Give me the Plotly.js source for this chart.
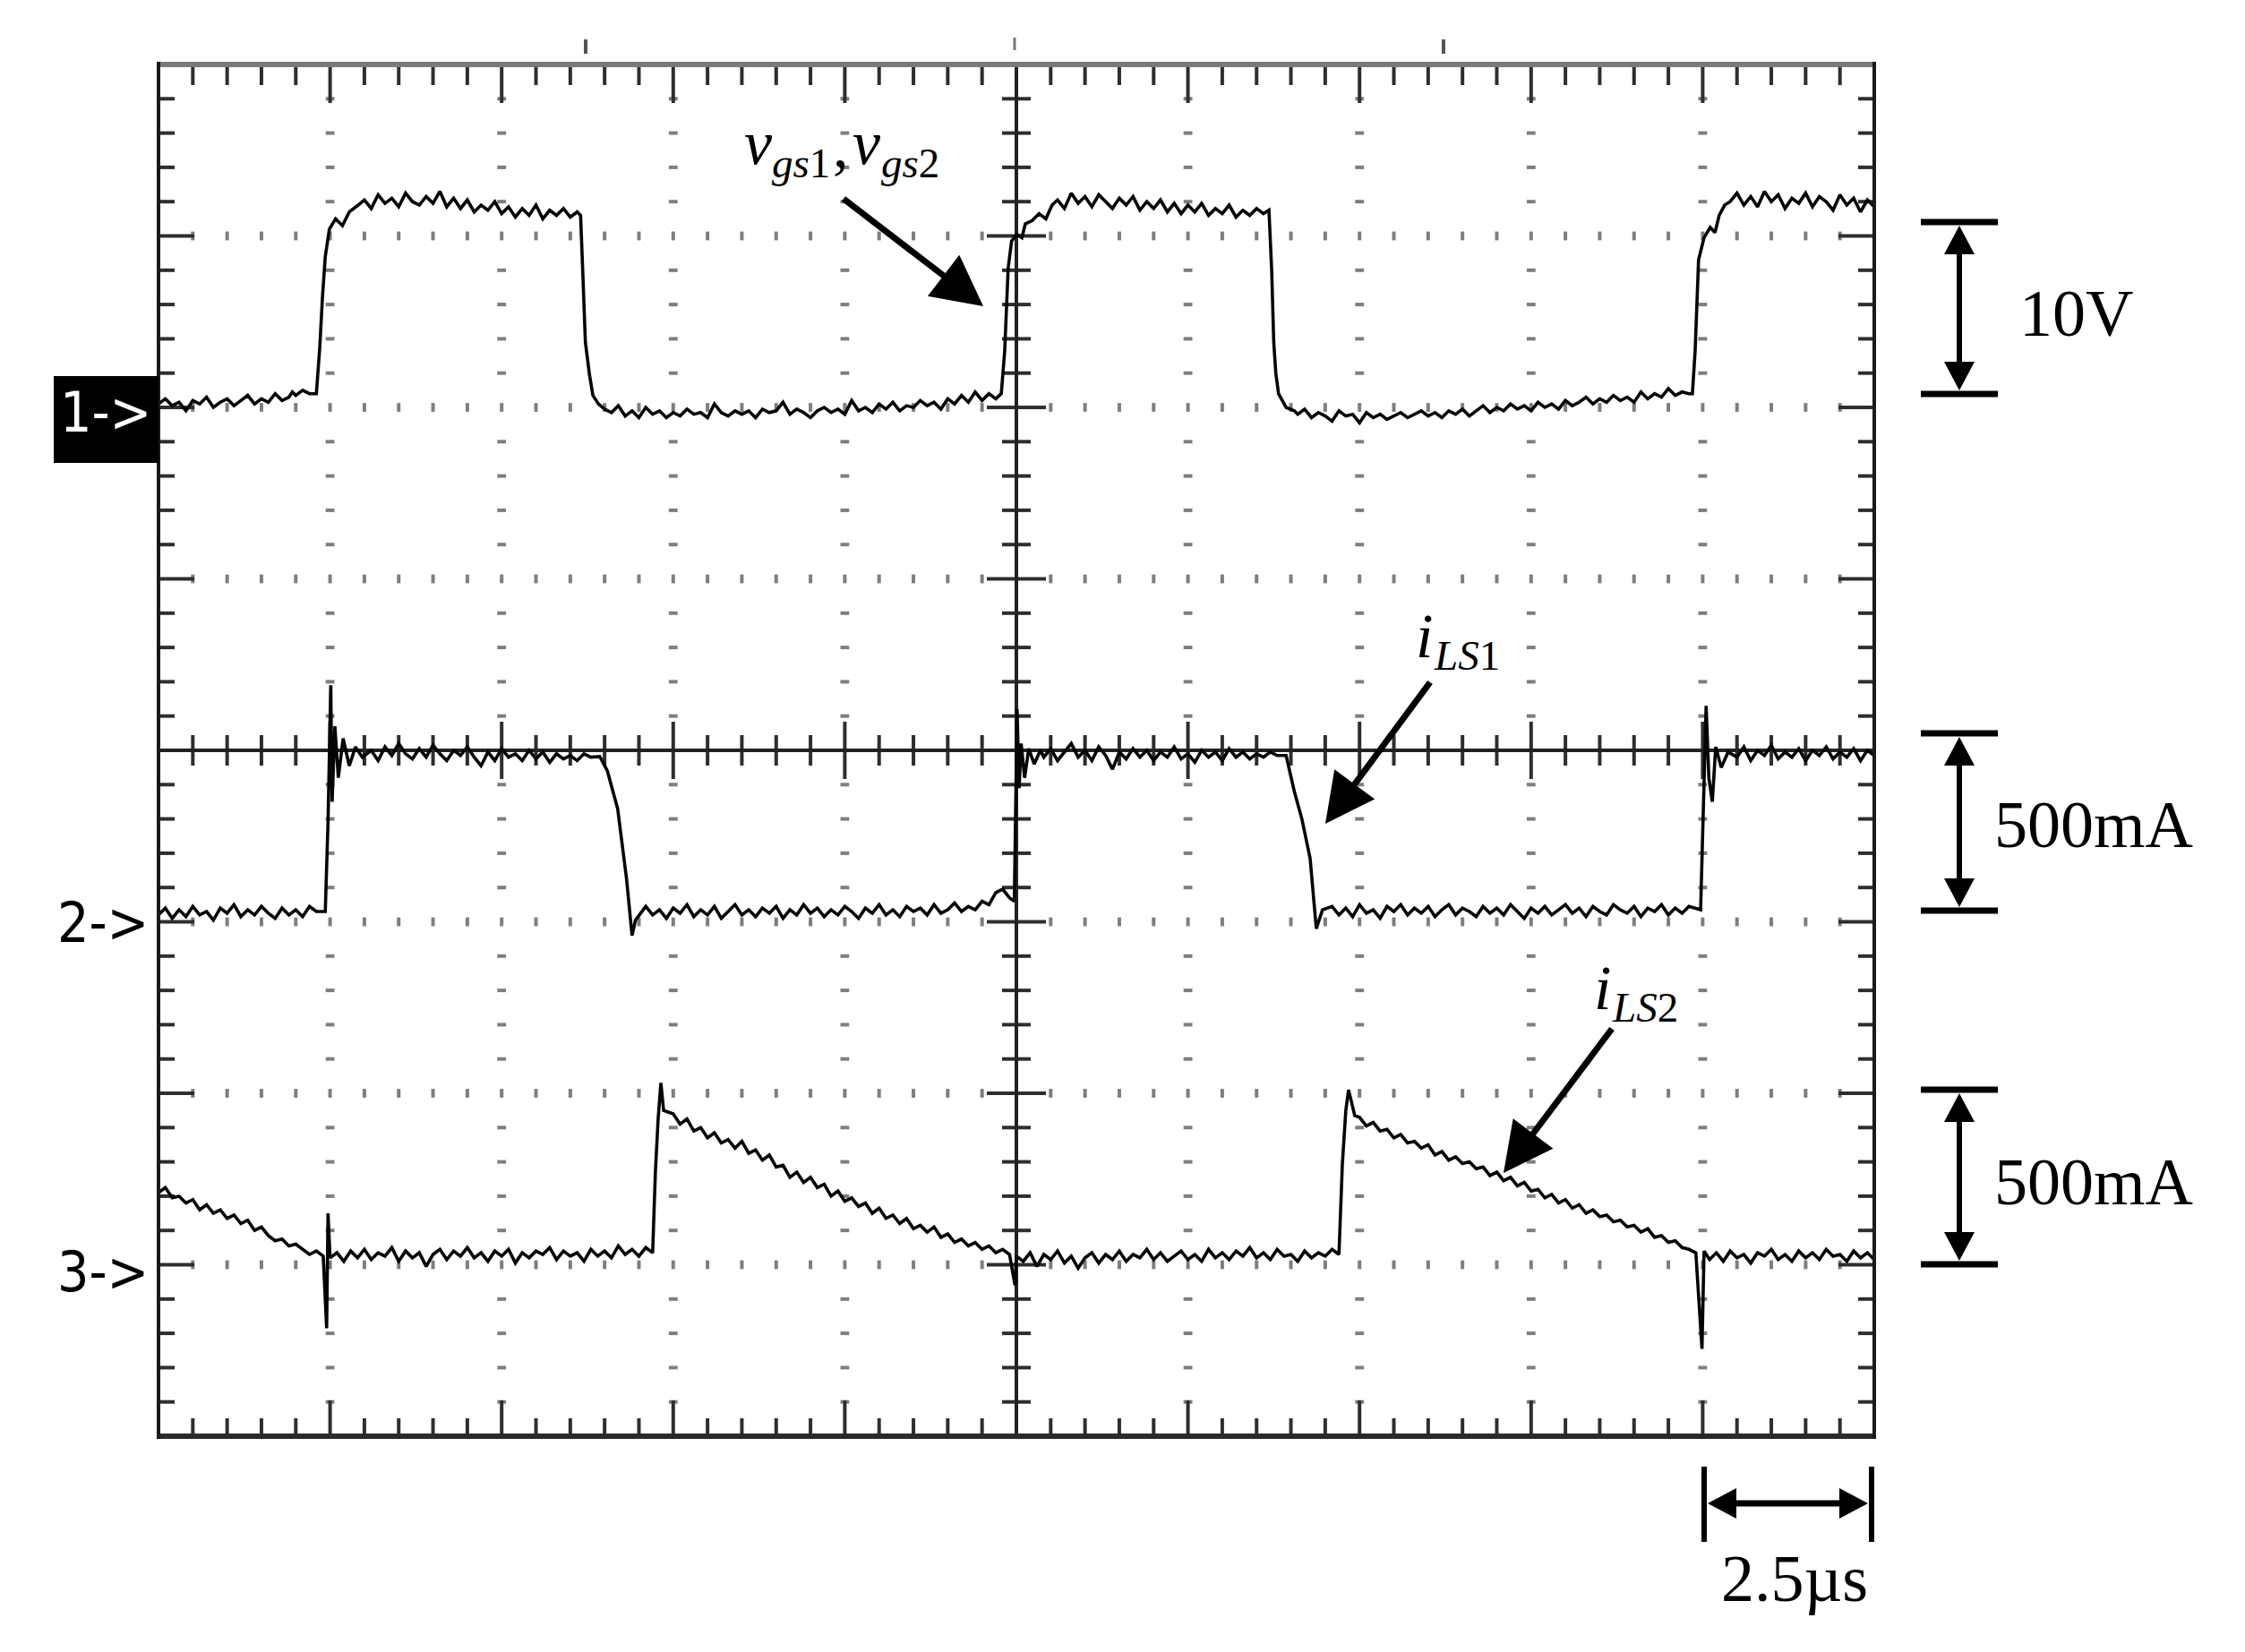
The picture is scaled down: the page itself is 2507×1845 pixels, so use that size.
<!DOCTYPE html>
<html><head><meta charset="utf-8">
<script src="https://cdn.plot.ly/plotly-3.0.1.min.js"></script>
<style>html,body{margin:0;padding:0;background:#fff}#chart{width:2507px;height:1845px}</style>
</head><body><div id="chart"></div>
<script>
// ---------------- DATA ----------------
// time axis: microseconds (2.5 us / div, 10 div)
// channel 1: gate voltage vgs1,vgs2 in volts (10 V/div)
const ch1Time = [
 0,0.1,0.2,0.3,0.4,0.5,0.6,0.7,0.8,0.9,1.0,1.1,1.2,1.3,1.4,1.5,1.6,1.7,1.8,1.9,
 1.95,2.0,2.1,2.2,2.3,
 2.35,2.39,2.43,2.49,2.58,2.68,2.78,2.91,
 3.0,3.1,3.2,3.3,3.4,3.5,3.6,3.7,3.8,3.9,4.0,4.1,4.2,4.3,4.4,4.5,4.6,4.7,4.8,4.9,5.0,5.1,5.2,5.3,5.4,5.5,5.6,5.7,5.8,5.9,6.0,6.1,
 6.15,6.18,6.22,6.28,6.33,6.41,6.5,
 6.6,6.7,6.8,6.9,7.0,7.1,7.2,7.3,7.4,7.5,
 7.6,7.7,7.8,7.9,8.0,8.1,8.2,8.3,8.4,8.5,
 8.6,8.7,8.8,8.9,9.0,9.1,9.2,9.3,9.4,9.5,
 9.6,9.7,9.8,9.9,10.0,10.1,10.2,10.3,10.4,10.5,
 10.6,10.7,10.8,10.9,11.0,11.1,11.2,11.3,11.4,11.5,
 11.6,11.7,11.8,11.9,12.0,12.1,12.2,12.28,
 12.33,12.38,12.43,12.51,12.58,12.63,12.73,12.83,12.93,13.02,
 13.1,13.2,13.3,13.4,13.5,13.6,13.7,13.8,13.9,14.0,
 14.1,14.2,14.3,14.4,14.5,14.6,14.7,14.8,14.9,15.0,
 15.1,15.2,15.3,15.4,15.5,15.6,15.7,15.8,15.9,16.0,
 16.1,16.18,
 16.22,16.25,16.28,16.32,16.43,16.55,
 16.6,16.7,16.8,16.9,17.0,17.1,17.2,17.3,17.4,17.5,
 17.6,17.7,17.8,17.9,18.0,18.1,18.2,18.3,18.4,18.5,
 18.6,18.7,18.8,18.9,19.0,19.1,19.2,19.3,19.4,19.5,
 19.6,19.7,19.8,19.9,20.0,20.1,20.2,20.3,20.4,20.5,
 20.6,20.7,20.8,20.9,21.0,21.1,21.2,21.3,21.4,21.5,
 21.6,21.7,21.8,21.9,22.0,22.1,22.2,22.3,22.35,
 22.39,22.44,22.52,22.61,22.68,22.74,22.82,
 22.9,23.0,23.1,23.2,23.3,23.4,23.5,23.6,23.7,23.8,23.9,24.0,24.1,24.2,24.3,24.4,24.5,24.6,24.7,24.8,24.9,25.0
];
const ch1Volts = [
 0.2,0.5,0.1,0.3,-0.2,0.4,0.2,0.6,0.0,0.3,0.5,0.1,0.4,0.7,0.2,0.5,0.3,0.8,0.4,0.6,
 0.9,0.7,1.0,0.8,0.8,
 3.5,6.5,8.8,10.4,11.0,10.6,11.4,11.8,
 12.1,11.6,12.4,11.9,12.2,11.7,12.5,12.0,11.8,12.3,11.9,12.6,11.7,12.2,11.6,12.1,11.4,11.8,11.5,12.0,11.3,11.7,11.1,11.6,11.2,11.8,11.0,11.5,11.2,11.6,11.1,11.4,
 11.2,8.1,3.8,1.9,0.7,0.2,-0.1,
 -0.3,0.1,-0.5,-0.2,-0.6,0.0,-0.4,-0.2,-0.6,-0.3,
 -0.5,-0.1,-0.4,-0.3,-0.6,0.2,-0.3,-0.5,-0.2,-0.4,
 -0.2,-0.6,-0.1,-0.3,-0.2,0.3,-0.4,-0.1,-0.3,-0.6,
 -0.2,0.0,-0.3,-0.1,-0.4,0.4,-0.2,0.0,-0.3,0.2,
 -0.1,0.3,-0.2,0.1,0.0,0.4,0.1,0.3,-0.1,0.5,
 0.2,0.7,0.3,0.9,0.4,0.8,0.5,0.8,
 3.3,8.1,9.7,10.1,9.9,10.7,10.9,11.3,11.0,11.8,
 12.1,11.6,12.5,11.9,12.3,11.7,12.4,12.0,11.6,12.2,
 11.8,12.3,11.5,12.0,11.6,12.1,11.4,11.9,11.3,11.8,
 11.4,11.9,11.2,11.6,11.3,11.8,11.1,11.5,11.2,11.6,
 11.3,11.5,
 8.0,3.8,2.0,0.8,0.0,-0.2,
 -0.4,-0.1,-0.6,-0.3,-0.5,-0.8,-0.2,-0.5,-0.4,-0.9,
 -0.3,-0.6,-0.4,-0.7,-0.5,-0.3,-0.6,-0.4,-0.2,-0.5,
 -0.3,-0.6,-0.2,-0.4,-0.1,-0.5,-0.2,0.1,-0.3,0.0,
 -0.2,0.2,-0.1,0.1,-0.2,0.3,0.0,0.2,-0.1,0.4,
 0.1,0.3,0.6,0.2,0.5,0.3,0.7,0.4,0.6,0.3,
 0.9,0.5,0.8,0.6,1.1,0.7,0.9,0.8,0.8,
 3.3,8.6,9.9,10.5,10.2,11.2,11.8,
 12.0,12.5,11.8,12.3,11.7,12.6,12.0,12.4,11.6,12.2,11.9,12.5,11.7,12.3,12.0,11.5,12.4,11.8,12.2,11.4,12.1,11.7
];

// channel 2: inductor current iLS1 in mA (500 mA/div)
const ch2Time = [
 0,0.1,0.2,0.3,0.4,0.5,0.6,0.7,0.8,0.9,1.0,1.1,1.2,1.3,1.4,1.5,1.6,1.7,1.8,1.9,2.0,2.1,2.2,2.3,2.43,
 2.47,2.51,2.53,2.57,2.62,2.69,2.78,2.87,2.97,
 3.1,3.2,3.3,3.4,3.5,3.6,3.7,3.8,3.9,4.0,
 4.1,4.2,4.3,4.4,4.5,4.6,4.7,4.8,4.9,5.0,
 5.1,5.2,5.3,5.4,5.5,5.6,5.7,5.8,5.9,6.0,
 6.1,6.2,6.3,6.43,
 6.54,6.69,6.82,6.90,6.95,7.03,
 7.1,7.2,7.3,7.4,7.5,7.6,7.7,7.8,7.9,8.0,
 8.1,8.2,8.3,8.4,8.5,8.6,8.7,8.8,8.9,9.0,
 9.1,9.2,9.3,9.4,9.5,9.6,9.7,9.8,9.9,10.0,
 10.1,10.2,10.3,10.4,10.5,10.6,10.7,10.8,10.9,11.0,
 11.1,11.2,11.3,11.4,11.5,11.6,11.7,11.8,11.9,12.0,
 12.1,12.2,12.3,12.4,12.47,
 12.49,12.51,12.54,12.57,12.62,12.68,12.76,12.85,
 12.9,13.0,13.1,13.2,13.3,13.4,13.5,13.6,13.7,13.8,
 13.9,14.0,14.1,14.2,14.3,14.4,14.5,14.6,14.7,14.8,
 14.9,15.0,15.1,15.2,15.3,15.4,15.5,15.6,15.7,15.8,
 15.9,16.0,16.1,16.2,16.3,16.43,
 16.55,16.66,16.78,16.87,16.96,
 17.1,17.2,17.3,17.4,17.5,17.6,17.7,17.8,17.9,18.0,
 18.1,18.2,18.3,18.4,18.5,18.6,18.7,18.8,18.9,19.0,
 19.1,19.2,19.3,19.4,19.5,19.6,19.7,19.8,19.9,20.0,
 20.1,20.2,20.3,20.4,20.5,20.6,20.7,20.8,20.9,21.0,
 21.1,21.2,21.3,21.4,21.5,21.6,21.7,21.8,21.9,22.0,
 22.1,22.2,22.3,22.47,
 22.51,22.55,22.59,22.64,22.69,22.77,22.87,
 23.0,23.1,23.2,23.3,23.4,23.5,23.6,23.7,23.8,23.9,24.0,24.1,24.2,24.3,24.4,24.5,24.6,24.7,24.8,24.9,25.0
];
const ch2mA = [
 20,40,10,35,15,45,20,30,5,40,25,50,15,35,20,45,25,10,40,20,35,15,45,30,30,
 290,690,350,570,420,535,455,510,480,
 500,470,510,485,520,490,475,505,480,515,
 490,470,500,485,510,480,455,495,470,505,
 480,490,470,500,475,495,465,490,475,485,
 470,490,480,482,
 440,330,125,-40,5,25,
 45,20,35,10,40,25,50,15,35,20,
 45,10,30,50,20,35,15,40,25,45,
 10,35,20,50,25,40,15,35,20,45,
 30,10,40,25,50,20,35,15,45,30,
 40,20,50,25,35,55,30,45,35,60,
 50,85,95,70,60,
 300,620,390,520,420,505,460,500,
 480,505,470,495,520,480,500,470,510,485,
 445,495,475,505,480,500,470,495,480,510,
 475,490,465,500,480,495,470,505,480,495,
 475,490,480,495,485,485,
 380,300,185,-20,35,
 45,20,40,15,50,25,35,10,45,30,
 50,20,40,25,45,15,35,50,20,40,
 30,15,45,25,40,20,50,30,10,40,
 25,45,20,35,50,25,40,15,45,30,
 20,50,35,25,45,15,40,30,50,20,
 40,25,45,35,
 340,630,420,350,510,450,495,
 480,510,470,500,485,515,475,495,480,505,470,500,485,510,475,495,480,505,470,500,485
];

// channel 3: inductor current iLS2 in mA (500 mA/div)
const ch3Time = [
 0,0.1,0.2,0.3,0.4,0.5,0.6,0.7,0.8,0.9,1.0,1.1,1.2,1.3,1.4,1.5,1.6,1.7,1.8,1.9,2.0,2.1,2.2,2.3,2.4,
 2.45,2.47,2.5,
 2.6,2.7,2.8,2.9,3.0,3.1,3.2,3.3,3.4,3.5,
 3.6,3.7,3.8,3.9,4.0,4.1,4.2,4.3,4.4,4.5,
 4.6,4.7,4.8,4.9,5.0,5.1,5.2,5.3,5.4,5.5,
 5.6,5.7,5.8,5.9,6.0,6.1,6.2,6.3,6.4,6.5,
 6.6,6.7,6.8,6.9,7.0,7.1,7.2,
 7.24,7.28,7.32,7.36,
 7.5,7.6,7.7,7.8,7.9,8.0,8.1,8.2,8.3,8.4,
 8.5,8.6,8.7,8.8,8.9,9.0,9.1,9.2,9.3,9.4,
 9.5,9.6,9.7,9.8,9.9,10.0,10.1,10.2,10.3,10.4,
 10.5,10.6,10.7,10.8,10.9,11.0,11.1,11.2,11.3,11.4,
 11.5,11.6,11.7,11.8,11.9,12.0,12.1,12.2,12.3,12.4,
 12.48,12.5,
 12.6,12.7,12.8,12.9,13.0,13.1,13.2,13.3,13.4,13.5,
 13.6,13.7,13.8,13.9,14.0,14.1,14.2,14.3,14.4,14.5,
 14.6,14.7,14.8,14.9,15.0,15.1,15.2,15.3,15.4,15.5,
 15.6,15.7,15.8,15.9,16.0,16.1,16.2,16.3,16.4,16.5,
 16.6,16.7,16.8,16.9,17.0,17.1,17.2,
 17.25,17.30,17.34,17.43,
 17.5,17.6,17.7,17.8,17.9,18.0,18.1,18.2,18.3,18.4,
 18.5,18.6,18.7,18.8,18.9,19.0,19.1,19.2,19.3,19.4,
 19.5,19.6,19.7,19.8,19.9,20.0,20.1,20.2,20.3,20.4,
 20.5,20.6,20.7,20.8,20.9,21.0,21.1,21.2,21.3,21.4,
 21.5,21.6,21.7,21.8,21.9,22.0,22.1,22.2,22.3,22.4,
 22.49,22.52,
 22.6,22.7,22.8,22.9,23.0,23.1,23.2,23.3,23.4,23.5,
 23.6,23.7,23.8,23.9,24.0,24.1,24.2,24.3,24.4,24.5,
 24.6,24.7,24.8,24.9,25.0
];
const ch3mA = [
 210,225,195,200,180,190,160,175,150,160,135,145,120,130,100,110,85,70,75,55,60,45,30,40,25,
 -185,150,20,
 35,10,40,20,45,15,35,25,50,10,
 40,20,35,-5,30,45,15,40,25,50,
 20,35,10,40,25,45,5,35,20,40,
 30,50,15,40,25,35,10,45,25,40,
 20,55,30,45,25,50,35,
 270,425,530,450,
 440,410,425,390,400,370,385,355,365,340,
 360,325,335,305,320,285,290,255,270,240,
 255,225,235,200,215,185,195,170,180,150,
 165,135,145,120,135,105,115,95,110,80,
 90,65,75,55,65,45,55,35,45,30,
 -60,25,
 10,35,-5,30,15,40,5,25,-10,20,
 35,5,30,15,40,10,30,20,45,15,
 35,10,25,40,15,30,10,45,20,35,
 15,40,25,50,20,35,15,45,25,30,
 10,40,20,35,25,45,30,
 295,450,510,435,
 430,405,415,390,395,370,380,355,360,340,
 350,320,330,305,315,295,300,280,285,260,
 270,245,255,230,240,215,220,195,205,180,
 190,165,175,150,160,140,145,125,130,110,
 115,95,105,80,85,65,70,50,45,35,
 -245,40,
 15,35,10,40,20,30,5,35,25,45,
 15,30,10,40,20,35,15,45,25,30,
 10,40,20,35,15
];

const channelLabels = ['1->', '2->', '3->'];
const scaleLabels = ['10V', '500mA', '500mA'];
const timeScaleLabel = '2.5\u00B5s';

// ---------------- SCOPE SETTINGS ----------------
const T_SPAN = 25;          // us across the screen
const Y_DIVS = 8;
const ch1Offset = 2,  ch1PerDiv = 10;    // V/div
const ch2Offset = -1, ch2PerDiv = 500;   // mA/div
const ch3Offset = -3, ch3PerDiv = 500;   // mA/div

// ---------------- GEOMETRY ----------------
const W = 2507, H = 1845;
const PL = 177, PR = 2093, PT = 72, PB = 1604;
const pxPerUs = (PR - PL) / T_SPAN;
const pxPerDiv = (PB - PT) / Y_DIVS;
const hx = p => p / pxPerUs;
const hy = p => p / pxPerDiv;
const PX = p => (p - PL) / (PR - PL);
const PY = p => (PB - p) / (PB - PT);

// graticule
const tick = {x: [], y: []};
const cross = {x: [], y: []};
function seg(o, x0, y0, x1, y1) { o.x.push(x0, x1, null); o.y.push(y0, y1, null); }
for (let k = 1; k < 50; k++) {
  const t = k * 0.5, major = k % 5 === 0;
  seg(tick, t, 4, t, 4 - hy(major ? 43 : 23));
  seg(tick, t, -4, t, -4 + hy(major ? 40 : 20));
  const c = hy(major ? 32 : 17);
  seg(tick, t, -c, t, c);
}
for (let k = 1; k < 40; k++) {
  const y = -4 + k * 0.2, major = k % 5 === 0;
  seg(tick, 0, y, hx(major ? 40 : 18), y);
  seg(tick, T_SPAN, y, T_SPAN - hx(major ? 40 : 18), y);
  const c = hx(major ? 33 : 16);
  seg(tick, 12.5 - c, y, 12.5 + c, y);
}
seg(cross, 0, 0, T_SPAN, 0);
seg(cross, 12.5, -4, 12.5, 4);

const dotsH = {x: [], y: []};
for (const yy of [-3, -2, -1, 1, 2, 3]) {
  for (let k = 1; k < 50; k++) { if (k === 25) continue; dotsH.x.push(k * 0.5); dotsH.y.push(yy); }
}
const dotsV = {x: [], y: []};
for (let m = 1; m < 10; m++) {
  if (m === 5) continue;
  for (let k = 1; k < 40; k++) { if (k % 5 === 0) continue; dotsV.x.push(m * 2.5); dotsV.y.push(-4 + k * 0.2); }
}

const toDiv = (vals, off, per) => vals.map(v => off + v / per);
const traceColor = '#050505';

const data = [
  {x: dotsH.x, y: dotsH.y, mode: 'markers', type: 'scatter', hoverinfo: 'skip',
   marker: {symbol: 'line-ns', size: 7, line: {width: 4, color: '#7e7e7e'}}},
  {x: dotsV.x, y: dotsV.y, mode: 'markers', type: 'scatter', hoverinfo: 'skip',
   marker: {symbol: 'line-ew', size: 7, line: {width: 4, color: '#7e7e7e'}}},
  {x: tick.x, y: tick.y, mode: 'lines', type: 'scatter', hoverinfo: 'skip', line: {color: '#2e2e2e', width: 4}},
  {x: cross.x, y: cross.y, mode: 'lines', type: 'scatter', hoverinfo: 'skip', line: {color: '#222', width: 4}},
  {x: ch1Time, y: toDiv(ch1Volts, ch1Offset, ch1PerDiv), mode: 'lines', type: 'scatter', line: {color: traceColor, width: 3.6}},
  {x: ch2Time, y: toDiv(ch2mA, ch2Offset, ch2PerDiv), mode: 'lines', type: 'scatter', line: {color: traceColor, width: 3.6}},
  {x: ch3Time, y: toDiv(ch3mA, ch3Offset, ch3PerDiv), mode: 'lines', type: 'scatter', line: {color: traceColor, width: 3.6}}
];

// ---------------- SHAPES (paper coordinates from pixel geometry) ----------------
const shapes = [];
function pline(x0, y0, x1, y1, w, color) {
  shapes.push({type: 'line', xref: 'paper', yref: 'paper', x0: PX(x0), y0: PY(y0), x1: PX(x1), y1: PY(y1),
    line: {color: color || '#000', width: w}});
}
function ppath(pts, color) {
  const d = pts.map((p, i) => (i ? 'L' : 'M') + PX(p[0]).toFixed(5) + ',' + PY(p[1]).toFixed(5)).join(' ') + ' Z';
  shapes.push({type: 'path', xref: 'paper', yref: 'paper', path: d, fillcolor: color || '#000', line: {width: 0}});
}
function arrow(sx, sy, tx, ty, L, hw, w) {
  const dx = tx - sx, dy = ty - sy, n = Math.hypot(dx, dy), ux = dx / n, uy = dy / n;
  const bx = tx - ux * L, by = ty - uy * L;
  pline(sx, sy, bx + ux * 4, by + uy * 4, w);
  ppath([[tx, ty], [bx - uy * hw, by + ux * hw], [bx + uy * hw, by - ux * hw]]);
}

// screen border
pline(PL, PT, PR, PT, 6, '#7a7a7a');
pline(PL, PB, PR, PB, 6, '#2a2a2a');
pline(PL, PT - 3, PL, PB + 3, 4, '#1a1a1a');
pline(PR, PT - 3, PR, PB + 3, 4, '#1a1a1a');
// small marks above the screen
pline(654, 44, 654, 60, 4, '#555');
pline(1133, 42, 1133, 56, 3, '#777');
pline(1612, 44, 1612, 60, 4, '#555');

// black box behind channel-1 marker
shapes.push({type: 'rect', xref: 'paper', yref: 'paper', x0: PX(60), x1: PX(177), y0: PY(517), y1: PY(420),
  fillcolor: '#000', line: {width: 0}});

// pointer arrows
arrow(942, 222, 1098, 342, 56, 29, 7);
arrow(1597, 762, 1480, 920, 55, 28, 7);
arrow(1800, 1149, 1679, 1310, 55, 28, 7);

// vertical scale brackets
function vBracket(top, bot) {
  const x = 2188;
  pline(2145, top, 2231, top, 7);
  pline(2145, bot, 2231, bot, 7);
  pline(x, top + 30, x, bot - 30, 6);
  ppath([[x, top + 4], [x - 17, top + 36], [x + 17, top + 36]]);
  ppath([[x, bot - 4], [x - 17, bot - 36], [x + 17, bot - 36]]);
}
vBracket(248, 440);
vBracket(819, 1017);
vBracket(1217, 1412);
// horizontal time bracket
pline(1903, 1638, 1903, 1722, 6);
pline(2090, 1638, 2090, 1722, 6);
pline(1935, 1679, 2058, 1679, 7);
ppath([[1907, 1679], [1939, 1662], [1939, 1696]]);
ppath([[2086, 1679], [2054, 1662], [2054, 1696]]);

// ---------------- TEXT ----------------
const serif = 'Liberation Serif, Times New Roman, serif';
const scopeFont = 'DejaVu Sans Condensed, DejaVu Sans, sans-serif';
const annotations = [];
function txt(text, x, y, size, family, color, xanchor) {
  annotations.push({text: text, xref: 'paper', yref: 'paper', x: PX(x), y: PY(y), showarrow: false,
    xanchor: xanchor || 'left', yanchor: 'middle', borderpad: 0,
    font: {size: size, family: family, color: color || '#000'}});
}
txt(channelLabels[0], 118, 461, 62, scopeFont, '#fff', 'center');
txt(channelLabels[1], 115, 1030, 62, scopeFont, '#000', 'center');
txt(channelLabels[2], 115, 1420, 62, scopeFont, '#000', 'center');

// v_gs1, v_gs2
txt('<i>v</i>', 830, 160, 70, serif);
txt('<i>gs</i>1', 861, 182, 47, serif);
txt(',', 929, 162, 70, serif);
txt('<i>v</i>', 951, 160, 70, serif);
txt('<i>gs</i>2', 983, 182, 47, serif);
// i_LS1
txt('<i>i</i>', 1580, 710, 70, serif);
txt('<i>LS</i>1', 1600, 732, 47, serif);
// i_LS2
txt('<i>i</i>', 1779, 1103, 70, serif);
txt('<i>LS</i>2', 1799, 1125, 47, serif);

txt(scaleLabels[0], 2254, 350, 74, serif);
txt(scaleLabels[1], 2226, 921, 74, serif);
txt(scaleLabels[2], 2226, 1320, 74, serif);
txt(timeScaleLabel, 2004, 1763, 74, serif, '#000', 'center');

const layout = {
  width: W, height: H,
  margin: {l: PL, r: W - PR, t: PT, b: H - PB, pad: 0},
  paper_bgcolor: '#fff', plot_bgcolor: '#fff', showlegend: false,
  xaxis: {range: [0, T_SPAN], showgrid: false, zeroline: false, showticklabels: false, ticks: '', showline: false, fixedrange: true},
  yaxis: {range: [-Y_DIVS / 2, Y_DIVS / 2], showgrid: false, zeroline: false, showticklabels: false, ticks: '', showline: false, fixedrange: true},
  shapes: shapes, annotations: annotations
};
Plotly.newPlot('chart', data, layout, {staticPlot: true, displayModeBar: false});
</script>
</body></html>
